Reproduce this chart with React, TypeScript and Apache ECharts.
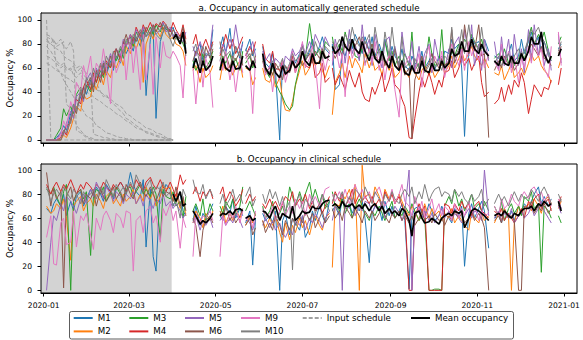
import React, { useEffect, useRef } from "react";
import * as echarts from "echarts";

const _ = null;
const FONT = "DejaVu Sans";

const MACHINES = ["M1", "M2", "M3", "M4", "M5", "M6", "M9", "M10"];
const COLORS = ["#1f77b4", "#ff7f0e", "#2ca02c", "#d62728", "#9467bd", "#8c564b", "#e377c2", "#7f7f7f"];
// day index counted from 2020-01-01 (a Wednesday); days without data (holidays)
const HOLIDAYS = [0, 103, 121, 141, 152, 202, 315, 359];
const MONTH_TICKS = [0, 60, 121, 182, 244, 305, 366];
const MONTH_LABELS = ["2020-01", "2020-03", "2020-05", "2020-07", "2020-09", "2020-11", "2021-01"];
const Y_TICKS = [0, 20, 40, 60, 80, 100];
const SHADE_END_DAY = 90;
const MEAN_START = 38; // first sample shown for the mean (2020-04-01)
const TITLES = ["a. Occupancy in automatically generated schedule", "b. Occupancy in clinical schedule"];
const Y_NAME = "Occupancy %";

// readings are taken on Mon / Wed / Fri of every week of 2020
const SAMPLE_DAYS: number[] = [];
for (let d = 1; d <= 365; d++) {
  const r = d % 7;
  if (r === 0 || r === 2 || r === 5) SAMPLE_DAYS.push(d);
}

// ---------- a. automatically generated schedule ----------
const A_M1 = [0,
  0,0,2, 6,12,8, 22,30,26, 36,44,38,
  50,44,56, 52,62,54, 66,58,70, 64,76,72,
  80,74,86, 78,90,37, 84,92,18, 82,90,94,
  90,94,86, 82,90,76, _,62,74, 80,66,72,
  70,92,_, 76,86,72, 93,70,78, 68,82,74,
  84,70,76, _,78,64, 60,72,58, 0,66,60,
  58,70,64, 72,80,66, 74,84,70, 78,86,76,
  72,80,42, 46,74,70, 84,76,88, 80,72,86,
  74,86,70, 80,72,84, 66,78,70, 64,76,62,
  58,70,64, 62,74,60, 66,72,58, 70,62,74,
  72,84,76, 80,60,3, 78,86,80, 82,76,84,
  74,_,70, 68,78,62, 72,80,66, 70,84,72,
  82,90,78, 86,74,82, 72,66,_, 76,80];
const A_M2 = [0,
  0,0,0, 0,4,2, 10,18,28, 24,38,34,
  36,48,42, 54,46,58, 52,64,60, 70,62,78,
  72,82,76, 86,48,80, 90,84,92, 86,94,88,
  84,86,80, 78,74,62, _,58,62, 48,60,52,
  56,62,_, 50,64,58, 62,54,60, 66,52,60,
  58,46,52, _,60,50, 48,56,44, 52,34,25,
  24,32,45, 58,66,54, 60,70,62, 66,58,52,
  62,21,48, 56,64,52, 70,60,68, 62,56,72,
  60,68,58, 62,54,66, 58,64,52, 56,62,58,
  52,60,56, 50,58,62, 54,60,52, 58,64,56,
  62,70,60, 68,74,66, 72,78,70, 66,62,68,
  60,_,56, 54,62,50, 58,64,52, 56,60,54,
  64,72,66, 70,62,58, 54,48,_, 60,68];
const A_M3 = [0,
  0,0,4, 10,26,20, 28,22,38, 44,34,46,
  40,54,48, 58,52,64, 60,70,66, 76,68,82,
  86,78,90, 84,92,86, 94,88,96, 90,97,92,
  92,88,84, 86,80,74, _,66,58, 64,72,60,
  66,74,_, 60,70,64, 72,62,68, 58,74,64,
  70,60,66, _,68,58, 52,62,48, 40,36,30,
  25,28,46, 62,74,68, 97,80,70, 76,66,82,
  78,86,72, 80,74,90, 76,84,70, 68,78,64,
  72,80,68, 76,70,82, 66,74,62, 70,64,72,
  62,90,58, 64,68,60, 86,72,62, 64,92,60,
  66,74,70, 80,76,84, 78,88,82, 76,84,74,
  70,_,68, 72,66,76, 64,70,62, 68,74,66,
  86,94,80, 88,82,90, 74,68,_, 80,86];
const A_M4 = [0,
  0,0,0, 2,8,4, 18,26,34, 30,44,50,
  42,56,48, 62,54,66, 60,72,76, 68,82,78,
  88,82,94, 86,96,90, 98,92,97, 94,99,96,
  90,98,92, 86,96,84, _,80,88, 70,78,84,
  74,82,_, 70,78,88, 76,84,72, 80,86,70,
  78,72,82, _,80,68, 64,74,60, 58,66,54,
  62,70,56, 68,74,62, 60,68,52, 56,64,48,
  52,60,46, 54,48,42, 58,50,44, 56,40,34,
  32,44,38, 48,56,40, 50,60,46, 42,34,28,
  2,1,18, 40,52,44, 56,48,38, 50,44,56,
  58,66,52, 60,70,62, 68,58,64, 70,48,36,
  40,_,30, 34,44,32, 46,38,50, 44,56,48,
  22,34,46, 40,36,44, 42,50,_, 46,60];
const A_M5 = [0,
  0,0,0, 6,4,14, 24,18,36, 40,32,50,
  56,46,60, 52,66,60, 72,64,76, 70,84,78,
  88,80,92, 84,94,86, 90,96,88, 92,98,90,
  94,86,90, 84,82,90, _,78,70, 82,74,68,
  76,96,_, 72,80,74, 84,78,96, 74,80,70,
  76,82,70, _,74,66, 72,60,68, 64,58,70,
  66,76,70, 74,80,72, 82,76,88, 80,74,86,
  78,62,84, 70,86,64, 92,72,80, 66,96,74,
  84,62,88, 70,60,82, 86,66,78, 60,90,72,
  64,82,58, 78,62,72, 80,56,84, 66,70,58,
  76,60,80, 86,64,92, 70,96,62, 80,58,84,
  66,_,82, 58,86,64, 84,60,88, 62,76,56,
  92,66,96, 70,90,62, 76,58,_, 88,64];
const A_M6 = [0,
  0,0,0, 0,6,12, 14,28,22, 40,34,44,
  52,40,58, 48,64,56, 70,60,76, 66,80,88,
  76,86,82, 90,84,94, 88,96,90, 98,92,96,
  86,92,88, 84,94,80, _,66,74, 70,62,78,
  68,76,_, 82,64,72, 60,70,66, 74,62,68,
  72,62,70, _,66,56, 60,54,64, 58,50,62,
  56,64,60, 70,62,66, 72,64,74, 68,76,70,
  66,74,68, 76,70,80, 72,84,78, 86,76,82,
  74,80,70, 66,74,62, 70,64,76, 58,66,54,
  60,1,50, 62,70,58, 64,72,66, 60,68,62,
  66,92,64, 74,68,96, 72,80,74, 96,70,72,
  2,_,58, 66,60,70, 62,68,58, 64,72,66,
  74,80,76, 70,78,68, 66,62,_, 72,78];
const A_M9 = [0,
  0,0,0, 4,16,10, 32,24,48, 40,62,52,
  70,48,64, 58,76,60, 30,72,56, 66,80,50,
  84,56,78, 42,88,50, 80,38,86, 60,82,70,
  68,74,70, 62,35,76, _,60,30, 70,44,68,
  56,27,_, 66,58,74, 50,62,40, 68,56,72,
  60,22,68, _,70,54, 62,40,58, 50,66,48,
  62,74,56, 70,82,60, 68,78,64, 26,70,58,
  74,66,80, 60,72,36, 82,68,76, 70,84,62,
  76,64,82, 58,70,50, 74,60,42, 19,66,62,
  70,62,56, 72,44,66, 78,58,70, 62,74,52,
  68,80,72, 62,76,58, 82,70,78, 66,74,60,
  72,_,66, 58,80,62, 74,56,70, 48,68,60,
  78,64,82, 70,76,60, 52,78,_, 90,62];
const A_M10 = [0,
  0,0,0, 0,8,6, 16,30,24, 42,36,52,
  46,60,52, 64,56,70, 62,74,68, 78,72,84,
  80,88,84, 92,82,90, 86,94,88, 84,90,96,
  84,78,86, 80,88,70, _,74,80, 62,78,70,
  72,80,_, 66,76,70, 74,66,78, 70,64,76,
  68,74,64, _,72,60, 56,66,58, 62,68,56,
  64,72,66, 70,78,68, 76,70,82, 72,68,78,
  74,82,76, 84,78,88, 80,94,84, 78,86,80,
  88,70,94, 74,66,90, 70,94,74, 62,86,60,
  64,58,68, 60,66,56, 62,68,60, 64,58,70,
  66,94,68, 76,92,72, 96,78,82, 74,94,76,
  68,_,64, 70,62,66, 72,64,70, 76,68,74,
  84,92,88, 94,86,82, 70,66,_, 74,82];
const A_MEAN = [
  84,88, 80,90,72, _,60,68, 56,66,58,
  62,70,_, 58,68,60, 57,66,59, 60,70,62,
  58,66,60, _,72,60, 54,64,56, 52,62,55,
  58,66,60, 64,74,66, 62,72,64, 64,74,68,
  70,78,72, 76,86,78, 74,84,76, 72,82,74,
  66,76,68, 64,74,66, 60,70,62, 58,66,56,
  54,62,56, 56,66,58, 56,64,58, 58,66,60,
  64,76,70, 72,82,74, 74,84,76, 72,80,74,
  70,_,66, 62,70,64, 62,70,64, 64,72,66,
  74,86,80, 80,90,72, 64,70,_, 70,76];
// input schedule, Jan - Mar (first 39 readings)
const IN_1 = [100, 2,0,0, 0,0,0, 0,0,0, 0,0,0, 0,0,0, 0,0,0, 0,0,0, 0,0,0, 0,0,0, 0,0,0, 0,0,0, 0,0,0, 0,0];
const IN_2 = [86, 84,82,60, 56,50,46, 40,36,30, 28,24,20, 18,16,12, 10,8,6, 5,4,3, 2,2,1, 1,0,0, 0,0,0, 0,0,0, 0,0,0, 0,0];
const IN_3 = [82, 80,84,78, 80,82,30, 26,20,12, 8,5,3, 2,1,0, 0,0,0, 0,0,0, 0,0,0, 0,0,0, 0,0,0, 0,0,0, 0,0,0, 0,0];
const IN_4 = [88, 86,82,80, 84,78,76, 82,74,8, 6,4,2, 1,0,0, 0,0,0, 0,0,0, 0,0,0, 0,0,0, 0,0,0, 0,0,0, 0,0,0, 0,0];
const IN_5 = [78, 74,70,66, 62,64,60, 58,62,56, 60,54,52, 50,44,48, 40,36,38, 32,30,28, 24,22,18, 16,14,12, 10,8,6, 5,4,3, 2,2,1, 0,0];
const IN_6 = [70, 68,66,64, 60,62,58, 60,54,52, 56,50,48, 46,48,42, 40,38,36, 34,32,30, 28,26,22, 20,18,16, 14,12,10, 9,8,6, 5,4,2, 1,0];
const IN_7 = [84, 80,78,76, 74,70,68, 66,64,60, 62,58,56, 50,5,4, 3,2,2, 1,1,0, 0,0,0, 0,0,0, 0,0,0, 0,0,0, 0,0,0, 0,0];
const IN_8 = [64, 62,60,58, 56,54,52, 50,48,46, 44,42,40, 38,36,34, 32,30,28, 26,24,22, 20,18,16, 14,12,10, 9,8,7, 6,5,4, 3,2,1, 1,0];

// ---------- b. clinical schedule ----------
const B_M1 = [68,
  64,72,76, 70,80,62, 74,66,78, 82,70,76,
  84,78,86, 80,74,88, 82,76,84, 90,86,80,
  98,88,82, 78,92,36, 84,28,16, 86,80,88,
  84,70,76, 80,66,62, _,58,70, 54,64,60,
  66,72,_, 62,58,70, 64,76,60, 68,62,56,
  66,21,60, _,64,58, 62,56,66, 0,58,64,
  46,60,56, 50,62,44, 52,66,58, 70,62,56,
  74,66,70, 62,76,68, 72,64,70, 66,74,60,
  23,64,70, 68,58,74, 62,70,60, 66,72,58,
  1,62,68, 70,64,60, 72,66,58, 62,70,64,
  60,56,68, 62,70,20, 64,72,60, 68,74,66,
  35,_,60, 62,56,68, 60,66,58, 70,64,72,
  68,74,80, 86,72,78, 70,76,_, 74,68];
const B_M2 = [70,
  64,66,72, 68,76,60, 25,70,74, 78,66,72,
  76,70,80, 74,68,78, 82,72,76, 70,80,74,
  78,84,72, 80,74,86, 76,82,70, 78,88,84,
  86,74,80, 68,76,62, _,56,66, 60,52,64,
  58,66,_, 62,70,56, 64,58,68, 60,66,54,
  62,56,64, _,58,52, 60,54,62, 48,40,56,
  42,54,48, 60,52,58, 46,56,62, 54,50,60,
  64,19,72, 70,80,76, 84,74,88, 0,104,78,
  80,74,86, 78,70,84, 76,82,72, 80,74,68,
  62,70,66, 58,64,72, 60,68,62, 66,58,64,
  60,68,56, 62,58,54, 50,66,60, 56,64,58,
  62,_,56, 64,58,68, 60,0,56, 70,64,68,
  72,66,76, 70,64,74, 78,72,_, 68,74];
const B_M3 = [84,
  80,86,78, 70,82,88, 0,74,80, 84,76,82,
  29,78,84, 80,86,74, 82,78,86, 80,74,84,
  86,78,82, 88,80,84, 78,86,80, 42,84,78,
  76,82,70, 74,60,78, _,66,72, 62,76,58,
  72,66,_, 70,64,74, 68,76,62, 70,86,66,
  74,68,62, _,70,60, 66,74,58, 64,70,62,
  86,78,70, 82,74,80, 90,76,84, 72,80,68,
  74,82,70, 66,78,64, 72,60,68, 76,70,64,
  58,66,62, 70,64,58, 68,74,60, 66,62,70,
  64,72,66, 58,62,60, 0,0,1, 1,0,70,
  78,72,84, 70,76,66, 74,80,68, 72,66,74,
  66,_,70, 62,74,58, 68,72,64, 70,62,78,
  74,82,68, 72,15,70, 66,60,_, 62,56];
const B_M4 = [88,
  80,86,90, 82,88,84, 92,86,80, 88,84,90,
  86,82,88, 84,90,86, 82,88,84, 90,86,82,
  88,84,92, 86,82,90, 94,88,84, 92,86,82,
  90,84,78, 96,88,92, _,80,86, 74,82,78,
  84,76,_, 80,86,74, 82,78,70, 76,84,72,
  80,74,78, _,72,68, 76,70,74, 66,72,78,
  74,82,70, 76,72,80, 68,74,66, 72,64,70,
  78,72,82, 74,80,70, 76,84,72, 80,74,78,
  72,78,70, 76,68,82, 74,80,72, 78,70,66,
  0,0,60, 72,66,70, 0,0,0, 0,0,72,
  70,64,72, 66,74,68, 72,62,70, 74,66,64,
  60,_,66, 62,68,58, 64,60,56, 62,68,60,
  74,70,76, 80,68,72, 76,66,_, 72,78];
const B_M5 = [0,
  40,62,58, 72,66,78, 74,70,64, 76,80,72,
  84,78,90, 82,76,86, 80,74,82, 78,72,80,
  76,82,72, 78,70,80, 74,68,76, 72,80,70,
  74,68,72, 66,60,64, _,56,62, 50,58,54,
  60,52,_, 58,62,54, 60,56,64, 58,52,60,
  56,50,58, _,54,60, 52,58,50, 56,48,44,
  52,46,58, 54,62,50, 60,56,64, 58,52,60,
  66,58,70, 64,0,72, 68,76,62, 70,66,74,
  72,64,70, 66,74,60, 68,62,70, 64,58,66,
  100,0,62, 68,60,66, 58,64,56, 62,68,60,
  66,58,64, 60,56,62, 68,60,66, 64,58,100,
  62,_,60, 66,58,64, 60,68,56, 62,66,60,
  64,70,62, 68,74,66, 60,56,_, 70,64];
const B_M6 = [98,
  70,84,76, 82,2,78, 86,74,80, 84,72,80,
  76,82,70, 84,78,74, 80,86,76, 82,74,88,
  80,76,84, 90,82,78, 86,80,74, 84,78,82,
  80,74,86, 70,78,66, _,60,54, 28,50,58,
  62,56,_, 66,60,70, 58,64,56, 62,68,54,
  60,46,52, _,58,48, 56,50,62, 54,46,58,
  50,60,54, 62,56,66, 58,64,52, 60,66,56,
  62,68,60, 66,58,70, 64,60,68, 62,56,66,
  60,66,58, 64,70,62, 56,64,60, 66,58,62,
  56,62,54, 60,66,58, 62,56,64, 58,60,54,
  62,58,66, 60,64,56, 60,66,58, 64,60,52,
  0,_,58, 62,56,66, 60,62,58, 0,0,70,
  68,74,64, 70,66,72, 64,68,_, 70,76];
const B_M9 = [44,
  62,22,21, 56,60,38, 40,66,36, 62,58,64,
  46,34,60, 50,62,66, 58,48,64, 60,52,66,
  64,16,58, 62,48,66, 70,56,62, 40,68,62,
  72,58,66, 35,60,52, _,28,64, 56,62,60,
  66,58,_, 28,62,54, 64,60,70, 56,66,58,
  62,52,66, _,68,60, 64,70,58, 66,74,62,
  70,64,76, 68,74,62, 80,72,78, 70,76,84,
  86,80,74, 82,76,84, 72,80,88, 78,84,76,
  82,74,80, 86,78,70, 76,84,72, 80,88,74,
  70,62,78, 66,74,60, 68,76,64, 72,62,70,
  66,58,72, 60,68,62, 74,64,70, 58,66,62,
  64,_,70, 62,76,68, 72,80,74, 70,78,82,
  76,84,86, 78,82,74, 80,70,_, 76,68];
const B_M10 = [86,
  74,80,84, 78,86,82, 76,84,80, 72,82,78,
  80,84,76, 86,80,92, 84,78,88, 82,86,80,
  90,84,96, 88,82,86, 92,80,86, 84,90,78,
  82,70,76, 60,84,78, _,92,82, 80,88,76,
  84,78,_, 72,80,70, 76,84,74, 80,72,78,
  86,70,76, _,80,72, 84,76,82, 70,78,66,
  74,17,72, 80,66,76, 70,78,64, 72,80,74,
  66,74,80, 76,82,70, 78,72,84, 80,74,86,
  78,72,82, 76,70,80, 74,82,76, 72,80,84,
  78,86,72, 82,76,88, 74,80,84, 86,78,82,
  80,74,84, 78,82,76, 72,80,74, 78,84,70,
  76,_,72, 80,74,78, 70,76,82, 74,80,76,
  78,84,80, 74,82,86, 78,72,_, 80,74];
const B_MEAN = [
  80,74, 82,70,72, _,66,62, 55,58,56,
  60,64,_, 62,64,63, 66,63,67, 68,66,60,
  62,58,60, _,66,65, 60,66,70, 58,64,62,
  60,70,58, 62,66,64, 65,70,68, 68,72,74,
  75,70,72, 68,74,70, 70,72,68, 71,68,72,
  66,70,72, 66,70,64, 68,64,66, 62,68,66,
  58,45,64, 66,60,56, 57,60,58, 55,60,62,
  64,62,66, 64,66,52, 60,66,68, 66,64,62,
  58,_,62, 64,62,66, 62,60,64, 62,66,68,
  68,70,66, 72,70,74, 70,72,_, 74,66];

const PANEL_A = [A_M1, A_M2, A_M3, A_M4, A_M5, A_M6, A_M9, A_M10];
const PANEL_B = [B_M1, B_M2, B_M3, B_M4, B_M5, B_M6, B_M9, B_M10];
const INPUTS = [IN_1, IN_2, IN_3, IN_4, IN_5, IN_6, IN_7, IN_8];

const X_MIN = -1.9;
const X_MAX = 375.1;

function toPoints(vals: (number | null)[], start: number) {
  const pts: any[] = [];
  let prev: number | null = null;
  vals.forEach((v, k) => {
    const d = SAMPLE_DAYS[start + k];
    if (prev !== null && HOLIDAYS.some((h) => h > (prev as number) && h < d)) {
      pts.push([(prev + d) / 2, "-"]);
    }
    pts.push([d, v == null ? "-" : v]);
    prev = d;
  });
  return pts;
}

const GRIDS = [
  { left: 41, top: 13, width: 536, height: 130, yMin: -2.5, yMax: 105.8 },
  { left: 41, top: 164, width: 536, height: 129, yMin: -2.2, yMax: 105 },
];

export default function App() {
  const ref = useRef<HTMLDivElement>(null);
  useEffect(() => {
    if (!ref.current) return;
    const chart = echarts.init(ref.current, undefined, { renderer: "svg" });
    const series: any[] = [];
    [0, 1].forEach((p) => {
      series.push({
        type: "line", name: "shade" + p, xAxisIndex: p, yAxisIndex: p, data: [], silent: true, z: 1,
        markArea: { silent: true, itemStyle: { color: "#d3d3d3" }, data: [[{ xAxis: X_MIN }, { xAxis: SHADE_END_DAY }]] },
      });
    });
    INPUTS.forEach((arr) => {
      series.push({
        type: "line", name: "Input schedule", xAxisIndex: 0, yAxisIndex: 0, data: toPoints(arr, 0),
        symbol: "none", silent: true, z: 2,
        lineStyle: { color: "#a0a0a0", width: 1, type: [4, 2] }, itemStyle: { color: "#a0a0a0" },
      });
    });
    [PANEL_A, PANEL_B].forEach((panel, p) => {
      panel.forEach((arr, i) => {
        series.push({
          type: "line", name: MACHINES[i], xAxisIndex: p, yAxisIndex: p, data: toPoints(arr, 0),
          symbol: "none", silent: true, z: 3,
          lineStyle: { color: COLORS[i], width: 1 }, itemStyle: { color: COLORS[i] },
        });
      });
    });
    [A_MEAN, B_MEAN].forEach((arr, p) => {
      series.push({
        type: "line", name: "Mean occupancy", xAxisIndex: p, yAxisIndex: p, data: toPoints(arr, MEAN_START),
        symbol: "none", silent: true, z: 4,
        lineStyle: { color: "#000", width: 1.7 }, itemStyle: { color: "#000" },
      });
    });

    const legendCols = [["M1", "M2"], ["M3", "M4"], ["M5", "M6"], ["M9", "M10"], ["Input schedule"], ["Mean occupancy"]];
    const legendLefts = [72.7, 128.3, 184, 240, 301.7, 410];

    const option: any = {
      animation: false,
      grid: GRIDS.map((g) => ({
        left: g.left, top: g.top, width: g.width, height: g.height,
        containLabel: false, outerBoundsMode: "none",
      })),
      xAxis: GRIDS.map((g, p) => ({
        type: "value", gridIndex: p, min: X_MIN, max: X_MAX,
        axisLine: { show: true, onZero: false, lineStyle: { color: "#000", width: 1 } },
        axisTick: { show: true, customValues: MONTH_TICKS, length: 3.5, lineStyle: { color: "#000", width: 1 } },
        axisLabel: {
          show: p === 1, customValues: MONTH_TICKS, margin: 8, fontSize: 7.6, fontFamily: FONT, color: "#000",
          formatter: (v: number) => MONTH_LABELS[MONTH_TICKS.indexOf(Math.round(v))] ?? "",
        },
        splitLine: { show: false },
      })),
      yAxis: GRIDS.map((g, p) => ({
        type: "value", gridIndex: p, min: g.yMin, max: g.yMax,
        axisLine: { show: true, onZero: false, lineStyle: { color: "#000", width: 1 } },
        axisTick: { show: true, customValues: Y_TICKS, length: 3.5, lineStyle: { color: "#000", width: 1 } },
        axisLabel: { customValues: Y_TICKS, margin: 9, fontSize: 7.6, fontFamily: FONT, color: "#000" },
        splitLine: { show: false },
      })),
      legend: legendCols.map((d, i) => ({
        data: d, orient: "vertical", left: legendLefts[i], top: 313, padding: 0,
        itemWidth: 19, itemHeight: 8, itemGap: 3.4, selectedMode: false,
        itemStyle: { color: "rgba(0,0,0,0)", borderColor: "rgba(0,0,0,0)", borderWidth: 0, opacity: 0 },
        textStyle: { fontSize: 8.7, fontFamily: FONT, color: "#000", lineHeight: 10 },
      })),
      graphic: [
        ...GRIDS.map((g) => ({
          type: "rect", z: 100, silent: true,
          shape: { x: g.left, y: g.top, width: g.width, height: g.height },
          style: { fill: "none", stroke: "#000", lineWidth: 1 },
        })),
        ...GRIDS.map((g, p) => ({
          type: "text", z: 100, silent: true, x: g.left + g.width / 2, y: g.top - 5.5,
          style: {
            text: TITLES[p], fontSize: 8.7, fontFamily: FONT, fill: "#000",
            align: "center", verticalAlign: "middle", textAlign: "center", textVerticalAlign: "middle",
          },
        })),
        ...GRIDS.map((g) => ({
          type: "text", z: 100, silent: true, x: 9.5, y: g.top + g.height / 2, rotation: Math.PI / 2,
          style: {
            text: Y_NAME, fontSize: 8.7, fontFamily: FONT, fill: "#000",
            align: "center", verticalAlign: "middle", textAlign: "center", textVerticalAlign: "middle",
          },
        })),
        {
          type: "rect", z: 0, silent: true,
          shape: { x: 69.5, y: 311.5, width: 444, height: 27.5, r: 2 },
          style: { fill: "#fff", stroke: "#333", lineWidth: 0.8 },
        },
      ],
      series,
    };
    chart.setOption(option);
    return () => chart.dispose();
  }, []);
  return <div ref={ref} style={{ position: "absolute", left: 0, top: 0, width: 583, height: 340 }} />;
}
